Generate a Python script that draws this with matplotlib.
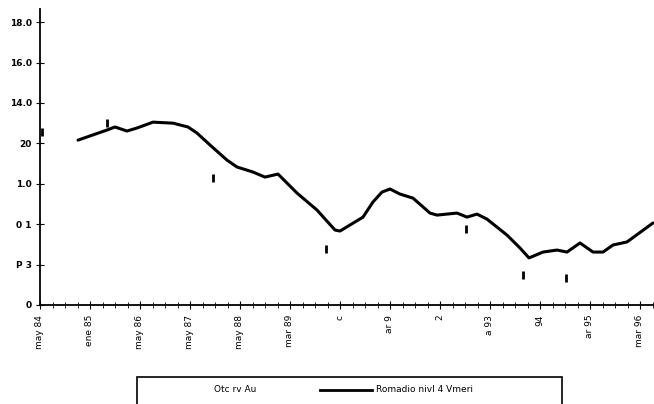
import matplotlib.pyplot as plt
from matplotlib.lines import Line2D
from matplotlib.patches import Rectangle
from matplotlib.ticker import MultipleLocator

# moving average (quarterly), decimal years 84..96
t_avg = [84.76, 85.34, 85.50, 85.74, 85.94, 86.26, 86.66, 86.96, 87.14, 87.40,
         87.74, 87.94, 88.26, 88.50, 88.76, 89.14, 89.54, 89.90, 90.00, 90.46,
         90.66, 90.84, 91.00, 91.20, 91.46, 91.80, 91.94, 92.34, 92.54, 92.74,
         92.94, 93.34, 93.60, 93.78, 94.06, 94.34, 94.54, 94.80, 95.06, 95.26,
         95.46, 95.74, 96.26]
v_avg = [12.16, 12.66, 12.81, 12.61, 12.76, 13.05, 13.00, 12.81, 12.51, 11.92,
         11.17, 10.83, 10.58, 10.33, 10.48, 9.54, 8.70, 7.71, 7.66, 8.35,
         9.10, 9.59, 9.74, 9.49, 9.29, 8.55, 8.45, 8.55, 8.35, 8.50,
         8.25, 7.46, 6.82, 6.33, 6.62, 6.72, 6.62, 7.07, 6.62, 6.62,
         6.97, 7.12, 8.06]

# scattered observations
t_obs = [84.04, 85.34, 87.46, 89.72, 92.52, 93.66, 94.52]
v_obs = [12.56, 13.00, 10.28, 6.77, 7.76, 5.48, 5.34]

x_years = list(range(84, 97))
x_labels = ["may 84", "ene 85", "may 86", "may 87", "may 88", "mar 89", "c",
            "ar 9", "2", "a 93", "94", "ar 95", "mar 96"]
y_ticks = [4, 6, 8, 10, 12, 14, 16, 18]
y_labels = ["0", "P 3", "0 1", "1.0", "20", "14.0", "16.0", "18.0"]

fig = plt.figure(figsize=(6.54, 4.04), dpi=100)
ax = fig.add_axes([40 / 654, 99 / 404, 614 / 654, 296 / 404])

ax.plot(t_avg, v_avg, color="black", linewidth=2.2, solid_capstyle="round")
ax.plot(t_obs, v_obs, linestyle="none", marker="|", markersize=6,
        markeredgewidth=2, color="black")

ax.set_xlim(84, 96.28)
ax.set_ylim(4, 18.65)
ax.set_xticks(x_years)
ax.set_xticklabels(x_labels, rotation=90, fontsize=6.5, va="top")
ax.xaxis.set_minor_locator(MultipleLocator(0.25))
ax.set_yticks(y_ticks)
ax.set_yticklabels(y_labels, fontsize=6.5, fontweight="bold")
ax.tick_params(axis="both", which="both", direction="inout", color="black")
ax.tick_params(axis="x", which="major", length=6, pad=4)
ax.tick_params(axis="x", which="minor", length=4)
ax.tick_params(axis="y", length=6, pad=3)

for s in ["top", "right"]:
    ax.spines[s].set_visible(False)
for s in ["left", "bottom"]:
    ax.spines[s].set_linewidth(1.3)

# legend box, cut off at the bottom like the scan
fig.add_artist(Rectangle((137 / 654, -0.05), 425 / 654, 0.05 + 27 / 404,
                         transform=fig.transFigure, fill=False,
                         edgecolor="black", linewidth=1.2))
fig.text(235 / 654, 1 - 390 / 404, "Otc rv Au", fontsize=6.5,
         ha="center", va="center")
fig.add_artist(Line2D([320 / 654, 372 / 654], [1 - 390 / 404] * 2,
                      transform=fig.transFigure, color="black", linewidth=2))
fig.text(376 / 654, 1 - 390 / 404, "Romadio nivl 4 Vmeri", fontsize=6.5,
         ha="left", va="center")

fig.savefig("out.png", dpi=100)
